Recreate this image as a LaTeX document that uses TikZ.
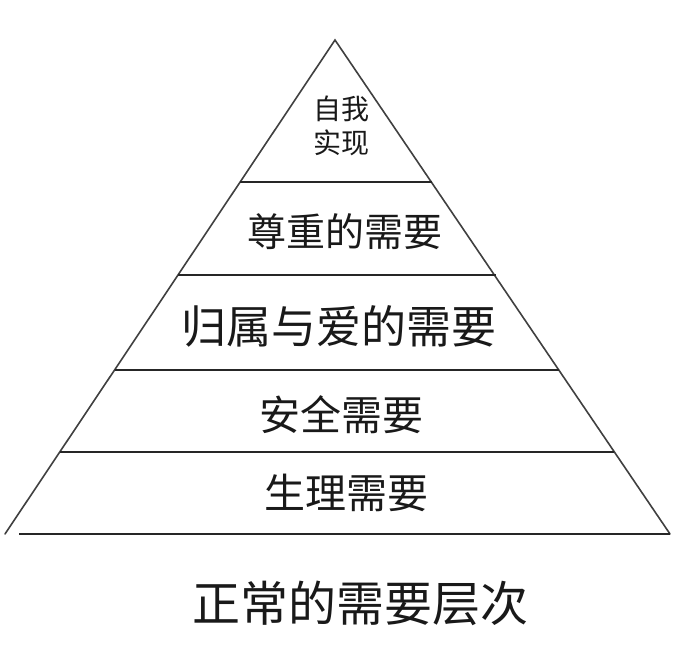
\documentclass[tikz,border=0pt]{standalone}
\usepackage{fontspec}
\newfontfamily\cjk{Noto Sans CJK SC}
\begin{document}
\begin{tikzpicture}[x=1pt,y=1pt,
  edge/.style={draw=black!75,line width=1.6pt,line cap=round},
  tier/.style={draw=black!85,line width=1.5pt},
  lbl/.style={font=\cjk\fontsize{#1}{#1}\selectfont,inner sep=0pt,text=black!90},
  lbl/.default=40]
\useasboundingbox (0,0) rectangle (686,651);
\fill[white] (0,0) rectangle (686,651);
\coordinate (apex) at (335,611);
\coordinate (bl) at (5,117);
\coordinate (br) at (670,117);
\coordinate (l1) at (240,469); \coordinate (r1) at (432,469);
\coordinate (l2) at (178,376); \coordinate (r2) at (496,376);
\coordinate (l3) at (115,281); \coordinate (r3) at (559,281);
\coordinate (l4) at (60,199);  \coordinate (r4) at (614,199);
\coordinate (l5) at (19,117);
\draw[edge] (bl) -- (apex) -- (br);
\draw[tier] (l1) -- (r1);
\draw[tier] (l2) -- (r2);
\draw[tier] (l3) -- (r3);
\draw[tier] (l4) -- (r4);
\draw[tier] (l5) -- (br);
\node[lbl=28,align=center] (t1) at (341,525) {自我\\[6pt]实现};
\node[lbl=39] (t2) at (345,419) {尊重的需要};
\node[lbl=45] (t3) at (339,325) {归属与爱的需要};
\node[lbl=41] (t4) at (341,236) {安全需要};
\node[lbl=41] (t5) at (346,158) {生理需要};
\node[lbl=48] (t6) at (360,48) {正常的需要层次};
\end{tikzpicture}
\end{document}
